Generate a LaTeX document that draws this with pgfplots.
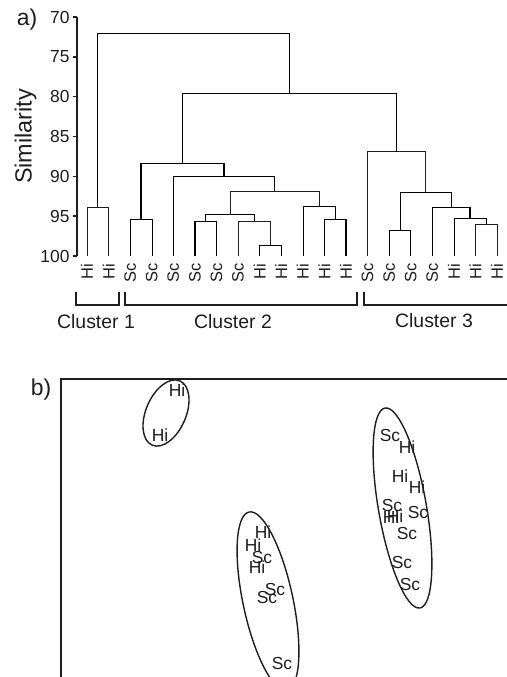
\documentclass[border=0pt]{standalone}
\usepackage{fontspec}
\setmainfont{Liberation Sans}
\usepackage{pgfplots}
\pgfplotsset{compat=1.18}

\definecolor{ink}{HTML}{1E1E1E}

\begin{document}
\begin{tikzpicture}
\useasboundingbox (0,0) rectangle (507bp,-677bp);

% ---- a) dendrogram ----
\begin{axis}[
  scale only axis, width=430bp, height=239bp,
  at={(77bp,-17bp)}, anchor=north west,
  xmin=0.537, xmax=20.463, ymin=70, ymax=100, y dir=reverse,
  axis y line*=left, axis x line*=bottom,
  x axis line style={draw=none},
  y axis line style={-, line width=1.4bp, ink},
  ytick={70,75,...,100},
  xtick={1,...,20},
  xticklabels={Hi,Hi,Sc,Sc,Sc,Sc,Sc,Sc,Hi,Hi,Hi,Hi,Hi,Sc,Sc,Sc,Sc,Hi,Hi,Hi},
  x tick style={draw=none},
  y tick style={line width=1.4bp, ink},
  tick align=outside, major tick length=4bp,
  xticklabel style={rotate=90, anchor=east, font=\fontsize{16.5}{16.5}\selectfont, text=ink},
  yticklabel style={font=\fontsize{17.5}{17.5}\selectfont, text=ink},
  /pgf/number format/assume math mode=true,
  ylabel={Similarity},
  ylabel style={font=\fontsize{23.5}{23.5}\selectfont, text=ink, yshift=-3bp},
  clip=false,
  cycle list={{ink, solid, line width=1.4bp, mark=none}},
]
% cluster 1
\addplot coordinates {(1,100) (1,93.9) (2,93.9) (2,100)};
% cluster 2
\addplot coordinates {(3,100) (3,95.4) (4,95.4) (4,100)};
\addplot coordinates {(6,100) (6,95.7) (7,95.7) (7,100)};
\addplot coordinates {(9,100) (9,98.6) (10,98.6) (10,100)};
\addplot coordinates {(8,100) (8,95.6) (9.5,95.6) (9.5,98.6)};
\addplot coordinates {(6.5,95.7) (6.5,94.8) (8.75,94.8) (8.75,95.6)};
\addplot coordinates {(12,100) (12,95.4) (13,95.4) (13,100)};
\addplot coordinates {(11,100) (11,93.8) (12.5,93.8) (12.5,95.4)};
\addplot coordinates {(7.625,94.8) (7.625,91.9) (11.75,91.9) (11.75,93.8)};
\addplot coordinates {(5,100) (5,90.0) (9.6875,90.0) (9.6875,91.9)};
\addplot coordinates {(3.5,95.4) (3.5,88.4) (7.34375,88.4) (7.34375,90.0)};
% cluster 3
\addplot coordinates {(15,100) (15,96.7) (16,96.7) (16,100)};
\addplot coordinates {(19,100) (19,96.0) (20,96.0) (20,100)};
\addplot coordinates {(18,100) (18,95.2) (19.5,95.2) (19.5,96.0)};
\addplot coordinates {(17,100) (17,93.9) (18.75,93.9) (18.75,95.2)};
\addplot coordinates {(15.5,96.7) (15.5,92.0) (17.875,92.0) (17.875,93.9)};
\addplot coordinates {(14,100) (14,86.9) (16.6875,86.9) (16.6875,92.0)};
% top joins
\addplot coordinates {(5.421875,88.4) (5.421875,79.6) (15.34375,79.6) (15.34375,86.9)};
\addplot coordinates {(1.5,93.9) (1.5,72.1) (10.3828,72.1) (10.3828,79.6)};
\end{axis}

% cluster brackets
\begin{scope}[line width=1.4bp, draw=ink]
\draw (76bp,-292bp) -- (76bp,-305bp) -- (119bp,-305bp) -- (119bp,-292bp);
\draw (125bp,-292bp) -- (125bp,-305bp) -- (357bp,-305bp) -- (357bp,-292bp);
\draw (364bp,-292bp) -- (364bp,-305bp) -- (512bp,-305bp);
\end{scope}
\begin{scope}[every node/.style={font=\fontsize{19.5}{19.5}\selectfont, text=ink, inner sep=0pt}]
\node at (96bp,-322bp) {Cluster 1};
\node at (233bp,-322bp) {Cluster 2};
\node at (434bp,-321bp) {Cluster 3};
\node[font=\fontsize{23}{23}\selectfont] at (27bp,-20bp) {a)};
\node[font=\fontsize{23}{23}\selectfont] at (41bp,-390bp) {b)};
\end{scope}

% ---- b) ordination ----
\begin{axis}[
  scale only axis, width=470bp, height=310bp,
  at={(61bp,-379bp)}, anchor=north west,
  xmin=0, xmax=470, ymin=-12, ymax=298,
  xtick=\empty, ytick=\empty,
  axis line style={line width=1.4bp, ink},
  nodes near coords,
  point meta=explicit symbolic,
  nodes near coords style={anchor=center, inner sep=0pt,
    font=\fontsize{17.5}{17.5}\selectfont, text=ink},
]
\addplot[only marks, mark=none] coordinates {
  (116,287) [Hi] (99,242) [Hi]
  (202,145) [Hi] (192,132) [Hi] (201,120) [Sc] (196,110) [Hi]
  (214,88) [Sc] (206,80) [Sc] (221,14) [Sc]
  (329,242) [Sc] (346,230) [Hi] (339,201) [Hi] (356,190) [Hi]
  (331,172) [Sc] (330,160) [Hi] (334,161) [Hi] (357,165) [Sc]
  (346,144) [Sc] (341,115) [Sc] (349,93) [Sc]
};
\draw[line width=1.4bp, ink] (axis cs:105,264) ellipse [x radius=35bp, y radius=20bp, rotate=66.7];
\draw[line width=1.4bp, ink] (axis cs:207,76) ellipse [x radius=91bp, y radius=25bp, rotate=102];
\draw[line width=1.4bp, ink] (axis cs:341.5,169) ellipse [x radius=101.5bp, y radius=24bp, rotate=99.9];
\end{axis}
\end{tikzpicture}
\end{document}
